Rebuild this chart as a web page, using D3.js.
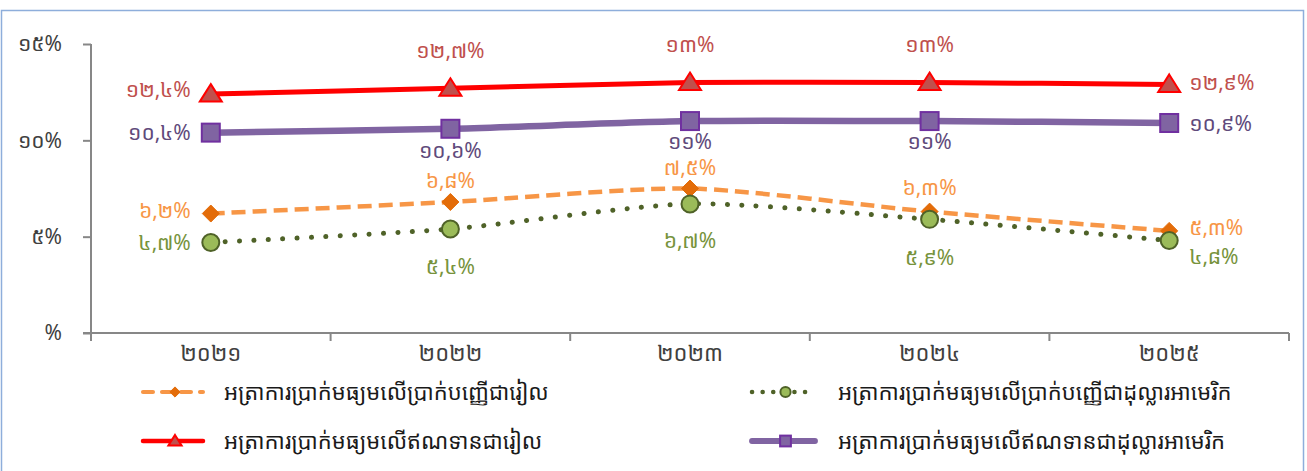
<!DOCTYPE html>
<html>
<head>
<meta charset="utf-8">
<script src="https://cdn.jsdelivr.net/npm/d3@7"></script>
<style>
  body { margin: 0; background: #fff; }
  svg text { font-family: "Noto Sans Khmer", "Khmer OS", "Noto Sans", "DejaVu Sans", sans-serif; }
</style>
</head>
<body>
<svg id="chart"></svg>
<script>
// categories (Khmer years)
const years = ['២០២១', '២០២២', '២០២៣', '២០២៤', '២០២៥'];

// series values, in percent
const rielDeposit = [6.2, 6.8, 7.5, 6.3, 5.3];
const usdDeposit = [4.7, 5.4, 6.7, 5.9, 4.8];
const rielLoan = [12.4, 12.7, 13, 13, 12.9];
const usdLoan = [10.4, 10.6, 11, 11, 10.9];

const seriesNames = [
  'អត្រាការប្រាក់មធ្យមលើប្រាក់បញ្ញើជារៀល',
  'អត្រាការប្រាក់មធ្យមលើប្រាក់បញ្ញើជាដុល្លារអាមេរិក',
  'អត្រាការប្រាក់មធ្យមលើឥណទានជារៀល',
  'អត្រាការប្រាក់មធ្យមលើឥណទានជាដុល្លារអាមេរិក'
];

const yTicks = [0, 5, 10, 15];

const khmerDigits = '០១២៣៤៥៦៧៨៩';
function khmerPct(v) {
  if (v === 0) return '%';
  let s = String(+v.toFixed(1)).replace('.', ',');
  return s.replace(/[0-9]/g, d => khmerDigits[+d]) + '%';
}

const width = 1307, height = 471;
const margin = { top: 44, right: 18, bottom: 138, left: 91 };

const svg = d3.select('#chart').attr('width', width).attr('height', height);

// outer frame
svg.append('rect')
  .attr('x', 1.5).attr('y', 10.5)
  .attr('width', 1302).attr('height', 470)
  .attr('fill', 'none')
  .attr('stroke', '#8eaedb')
  .attr('stroke-width', 1.5);

const x = d3.scaleBand().domain(years).range([margin.left, width - margin.right]);
const y = d3.scaleLinear().domain([0, 15]).range([height - margin.bottom, margin.top]);
const cx = d => x(d) + x.bandwidth() / 2;

const axisColor = '#878787';

// y axis
const yAxis = d3.axisLeft(y).tickValues(yTicks).tickSize(8).tickFormat(khmerPct);
const yg = svg.append('g').attr('transform', `translate(${margin.left},0)`).call(yAxis);
yg.select('.domain').attr('stroke', axisColor).attr('stroke-width', 2).attr('d', `M0,${y(15)}V${y(0) + 8}`);
yg.selectAll('.tick line').attr('stroke', axisColor).attr('stroke-width', 2);
yg.selectAll('.tick text')
  .attr('x', -29)
  .attr('fill', '#404040')
  .style('font-size', '21px');

// x axis (ticks between categories)
const xg = svg.append('g').attr('transform', `translate(0,${y(0)})`);
xg.append('line')
  .attr('x1', margin.left - 8).attr('x2', width - margin.right)
  .attr('stroke', axisColor).attr('stroke-width', 2);
const edges = years.map(d => x(d)).concat([x(years[years.length - 1]) + x.bandwidth()]);
xg.selectAll('.edge').data(edges).join('line')
  .attr('class', 'edge')
  .attr('x1', d => d).attr('x2', d => d)
  .attr('y1', 0).attr('y2', 8)
  .attr('stroke', axisColor).attr('stroke-width', 2);
xg.selectAll('.cat').data(years).join('text')
  .attr('class', 'cat')
  .attr('x', d => cx(d)).attr('y', 20)
  .attr('dy', '0.35em')
  .attr('text-anchor', 'middle')
  .attr('fill', '#404040')
  .style('font-size', '22px')
  .text(d => d);

// series styling
const series = [
  { name: seriesNames[0], values: rielDeposit, line: '#f79646', dash: '14,7', width: 4.5, cap: 'butt',
    marker: 'diamond', fill: '#e36c09', stroke: '#e36c09', label: '#f79646',
    offsets: [[-20, -3], [0, -21], [0, -21], [0, -24], [20, -3]] },
  { name: seriesNames[1], values: usdDeposit, line: '#4f6228', dash: '0.1,14.3', width: 5, cap: 'round',
    marker: 'circle', fill: '#9bbb59', stroke: '#4f6228', label: '#77933c',
    offsets: [[-20, 0], [0, 38], [0, 37], [0, 38], [20, 16]] },
  { name: seriesNames[2], values: rielLoan, line: '#ff0000', dash: null, width: 5, cap: 'butt',
    marker: 'triangle', fill: '#c0504d', stroke: '#ff0000', label: '#c0504d',
    offsets: [[-20, -4], [0, -38], [0, -38], [0, -38], [20, -2]] },
  { name: seriesNames[3], values: usdLoan, line: '#8064a2', dash: null, width: 6.5, cap: 'butt',
    marker: 'square', fill: '#8064a2', stroke: '#7030a0', label: '#604a7b',
    offsets: [[-20, 0], [0, 22], [0, 21], [0, 21], [20, 1]] }
];

const line = d3.line()
  .x((d, i) => cx(years[i]))
  .y(d => y(d))
  .curve(d3.curveCardinal.tension(0.3));

function drawMarker(g, type, s, size) {
  if (type === 'diamond') {
    g.append('path').attr('d', `M0,${-size}L${size},0L0,${size}L${-size},0Z`)
      .attr('fill', s.fill).attr('stroke', s.stroke).attr('stroke-width', 1);
  } else if (type === 'circle') {
    g.append('circle').attr('r', size)
      .attr('fill', s.fill).attr('stroke', s.stroke).attr('stroke-width', 2);
  } else if (type === 'triangle') {
    g.append('path').attr('d', `M0,${-size}L${size * 1.1},${size * 0.75}L${-size * 1.1},${size * 0.75}Z`)
      .attr('fill', s.fill).attr('stroke', s.stroke).attr('stroke-width', 2);
  } else {
    g.append('rect').attr('x', -size).attr('y', -size).attr('width', size * 2).attr('height', size * 2)
      .attr('fill', s.fill).attr('stroke', s.stroke).attr('stroke-width', 2);
  }
}
const markerSize = { diamond: 8.5, circle: 8.5, triangle: 10, square: 9 };

const plot = svg.append('g');
series.forEach(s => {
  plot.append('path')
    .datum(s.values)
    .attr('d', line)
    .attr('fill', 'none')
    .attr('stroke', s.line)
    .attr('stroke-width', s.width)
    .attr('stroke-linecap', s.cap)
    .attr('stroke-dasharray', s.dash);
});
series.forEach(s => {
  s.values.forEach((v, i) => {
    const g = plot.append('g').attr('transform', `translate(${cx(years[i])},${y(v)})`);
    drawMarker(g, s.marker, s, markerSize[s.marker]);
    const [dx, dy] = s.offsets[i];
    plot.append('text')
      .attr('x', cx(years[i]) + dx)
      .attr('y', y(v) + dy)
      .attr('dy', '0.35em')
      .attr('text-anchor', dx < 0 ? 'end' : dx > 0 ? 'start' : 'middle')
      .attr('fill', s.label)
      .style('font-size', '21px')
      .text(khmerPct(v));
  });
});

// legend
const legendPos = [[143, 392, 60, 81], [752, 392, 63, 86], [143, 441, 60, 81], [752, 441, 63, 86]];
series.forEach((s, i) => {
  const [lx, ly, len, tx] = legendPos[i];
  const g = svg.append('g').attr('transform', `translate(${lx},${ly})`);
  g.append('line')
    .attr('x1', 0).attr('x2', len)
    .attr('stroke', s.line)
    .attr('stroke-width', s.width * 0.9)
    .attr('stroke-linecap', 'round')
    .attr('stroke-dasharray', s.dash ? (s.cap === 'round' ? '0.1,10.5' : '10,9') : null);
  const mg = g.append('g').attr('transform', `translate(${len / 2 + 2},0)`);
  drawMarker(mg, s.marker, s, markerSize[s.marker] * 0.6);
  g.append('text')
    .attr('x', tx).attr('y', 0)
    .attr('dy', '0.35em')
    .attr('fill', '#1a1a1a')
    .style('font-size', '22px')
    .text(s.name);
});
</script>
</body>
</html>
